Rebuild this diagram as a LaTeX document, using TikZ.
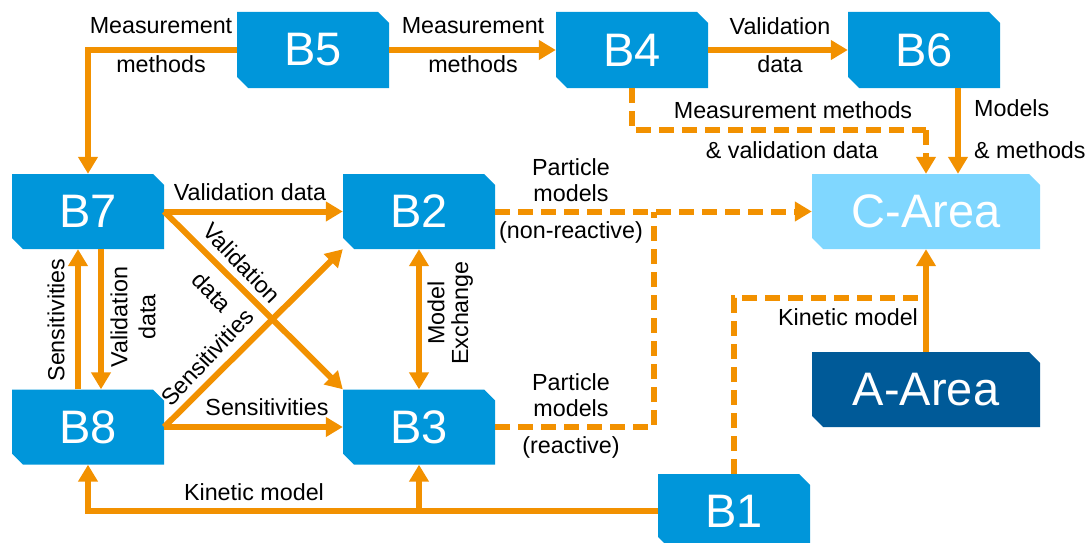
\documentclass[tikz,border=0pt]{standalone}
\usepackage{fontspec}
\setmainfont{Liberation Sans}
\usetikzlibrary{arrows.meta}
\definecolor{boxblue}{RGB}{0,150,218}
\definecolor{lightblue}{RGB}{128,215,255}
\definecolor{darkblue}{RGB}{0,90,152}
\definecolor{flow}{RGB}{242,145,0}
\tikzset{
  chbox/.style={rectangle, minimum width=152pt, minimum height=76pt, inner sep=0pt,
    text=white, font=\fontsize{47}{50}\selectfont,
    path picture={\fill[#1] (path picture bounding box.north west)
      -- ([xshift=-11pt]path picture bounding box.north east)
      -- ([yshift=-11pt]path picture bounding box.north east)
      -- (path picture bounding box.south east)
      -- ([xshift=11pt]path picture bounding box.south west)
      -- ([yshift=11pt]path picture bounding box.south west) -- cycle;}},
  lbl/.style={font=\fontsize{23.3}{25}\selectfont, inner sep=0pt},
  flowline/.style={draw=flow, line width=6pt, -{Triangle[length=17pt,width=19pt]}},
  flowplain/.style={draw=flow, line width=6pt},
  dashflow/.style={flowline, dash pattern=on 15pt off 8pt},
  dashplain/.style={flowplain, dash pattern=on 15pt off 8pt},
  both/.style={draw=flow, line width=6pt, {Triangle[length=17pt,width=19pt]}-{Triangle[length=17pt,width=19pt]}}
}
\begin{document}
\begin{tikzpicture}[x=1pt,y=-1pt]
\useasboundingbox (0,0) rectangle (1089,543);
% boxes
\node[chbox=boxblue] (B5) at (313,50) {B5};
\node[chbox=boxblue] (B4) at (632,50) {B4};
\node[chbox=boxblue] (B6) at (924,50) {B6};
\node[chbox=boxblue, minimum height=75pt] (B7) at (88,211.5) {B7};
\node[chbox=boxblue, minimum height=75pt] (B2) at (419,211.5) {B2};
\node[chbox=boxblue, minimum height=75pt] (B8) at (88,427) {B8};
\node[chbox=boxblue, minimum height=75pt] (B3) at (419,427) {B3};
\node[chbox=lightblue, minimum width=228pt, minimum height=75pt] (CArea) at (926,211.5) {C-Area};
\node[chbox=darkblue, minimum width=228pt, minimum height=75pt] (AArea) at (926,389.5) {A-Area};
\node[chbox=boxblue, minimum height=74pt] (B1) at (734,511) {B1};
% helper coordinates
\coordinate (j1) at (654,211.5);
\coordinate (j2) at (CArea.south |- 0,298);
\coordinate (j3) at (CArea.north |- 0,130);
\coordinate (b6o) at ([xshift=34pt]B6.south);
\coordinate (b1j) at (B3.south |- B1.west);
\coordinate (s87a) at ([xshift=-10pt]B8.north);
\coordinate (s87b) at ([xshift=-10pt]B7.south);
\coordinate (s78a) at ([xshift=13pt]B7.south);
\coordinate (s78b) at ([xshift=13pt]B8.north);
% connectors
\draw[flowline] (B5.west) -| (B7.north);
\draw[flowline] (B5.east) -- (B4.west);
\draw[flowline] (B4.east) -- (B6.west);
\draw[dashplain] (B4.south) |- (j3);
\draw[dashflow] (j3) -- (CArea.north);
\draw[flowline] (b6o) -- (b6o |- CArea.north);
\draw[flowline] (B7.east) -- (B2.west);
\draw[flowline] (B7.east) -- (B3.north west);
\draw[flowline] (B8.east) -- (B2.south west);
\draw[flowline] (B8.east) -- (B3.west);
\draw[flowline] (s87a) -- (s87b);
\draw[flowline] (s78a) -- (s78b);
\draw[both] (B2.south) -- (B3.north);
\draw[dashflow] (B2.east) -- (CArea.west);
\draw[dashplain] (B3.east) -| (j1);
\draw[dashplain] (B1.north) |- (j2);
\draw[flowline] (AArea.north) -- (CArea.south);
\draw[flowline] (B1.west) -| (B8.south);
\draw[flowline] (b1j) -- (B3.south);
% labels
\node[lbl] (l1) at (161,26) {Measurement};
\node[lbl] (l2) at (161,64) {methods};
\node[lbl] (l3) at (473,26) {Measurement};
\node[lbl] (l4) at (473,64) {methods};
\node[lbl] (l5) at (780,26) {Validation};
\node[lbl] (l6) at (780,64) {data};
\node[lbl] (l7) at (793,110) {Measurement methods};
\node[lbl] (l8) at (792,150) {\& validation data};
\node[lbl, anchor=west] (l9) at (974,108) {Models};
\node[lbl, anchor=west] (l10) at (974,150) {\& methods};
\node[lbl] (l11) at (250,192) {Validation data};
\node[lbl, rotate=-46] (l12) at (242,263) {Validation};
\node[lbl, rotate=-46] (l13) at (212,292) {data};
\node[lbl, rotate=47] (l14) at (207,357) {Sensitivities};
\node[lbl] (l15) at (267,407) {Sensitivities};
\node[lbl, rotate=90] (l16) at (56,320) {Sensitivities};
\node[lbl, rotate=90] (l17) at (119,317) {Validation};
\node[lbl, rotate=90] (l18) at (147,317) {data};
\node[lbl, rotate=90] (l19) at (436,313) {Model};
\node[lbl, rotate=90] (l20) at (462,313) {Exchange};
\node[lbl] (l21) at (571,167) {Particle};
\node[lbl] (l22) at (571,193) {models};
\node[lbl] (l23) at (571,232) {(non-reactive)};
\node[lbl] (l24) at (571,382) {Particle};
\node[lbl] (l25) at (571,408) {models};
\node[lbl] (l26) at (571,447) {(reactive)};
\node[lbl] (l27) at (848,317) {Kinetic model};
\node[lbl] (l28) at (254,492) {Kinetic model};
\end{tikzpicture}
\end{document}
